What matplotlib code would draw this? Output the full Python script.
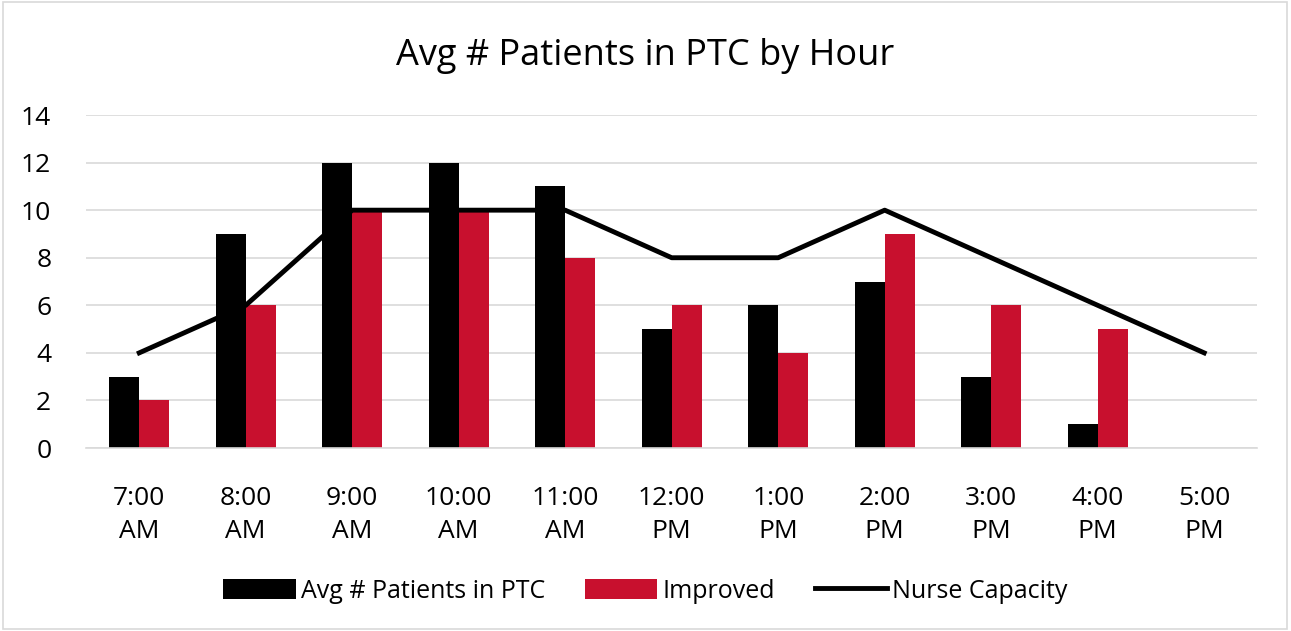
import numpy as np
import matplotlib
matplotlib.use("Agg")
import matplotlib.pyplot as plt
from matplotlib.patches import Rectangle

plt.rcParams['font.family'] = ['Open Sans', 'DejaVu Sans']

hours = ['7:00\nAM', '8:00\nAM', '9:00\nAM', '10:00\nAM', '11:00\nAM', '12:00\nPM',
         '1:00\nPM', '2:00\nPM', '3:00\nPM', '4:00\nPM', '5:00\nPM']
avg_patients = [3, 9, 12, 12, 11, 5, 6, 7, 3, 1, np.nan]
improved = [2, 6, 10, 10, 8, 6, 4, 9, 6, 5, np.nan]
nurse_capacity = [4, 6, 10, 10, 10, 8, 8, 10, 8, 6, 4]

fig = plt.figure(figsize=(12.91, 6.31), dpi=100)
ax = fig.add_axes([0.0666, 0.290, 0.9074, 0.5277])

x = np.arange(len(hours))
w = 0.28
b1 = ax.bar(x - w / 2, avg_patients, w, color='black', label='Avg # Patients in PTC', zorder=2)
b2 = ax.bar(x + w / 2, improved, w, color='#c8102e', label='Improved', zorder=2)
l1, = ax.plot(x, nurse_capacity, color='black', lw=3.5, label='Nurse Capacity', zorder=3)

ax.set_xlim(-0.5, len(hours) - 0.5)
ax.set_ylim(0, 14)
ax.set_yticks(range(0, 15, 2))
ax.set_xticks(x)
ax.set_xticklabels(hours, linespacing=1.45)
ax.tick_params(axis='both', length=0, labelsize=19)
ax.tick_params(axis='x', pad=27)
ax.tick_params(axis='y', pad=25)
ax.grid(axis='y', color='#d9d9d9', lw=1.2, zorder=0)
for s in ['top', 'right', 'left']:
    ax.spines[s].set_visible(False)
ax.spines['bottom'].set_color('#d9d9d9')
ax.spines['bottom'].set_linewidth(1.2)

fig.text(0.5, 0.912, 'Avg # Patients in PTC by Hour', ha='center', va='center', fontsize=26)

fig.legend([b1, b2, l1], ['Avg # Patients in PTC', 'Improved', 'Nurse Capacity'],
           loc='center', bbox_to_anchor=(0.5, 0.063), ncol=3, frameon=False,
           fontsize=18, handlelength=2.9, handleheight=0.9, columnspacing=1.6,
           handletextpad=0.2)

fig.patches.append(Rectangle((0.002, 0.003), 0.995, 0.994, transform=fig.transFigure,
                             fill=False, edgecolor='#d9d9d9', lw=1.2))

fig.savefig('out.png', dpi=100, facecolor='white')
